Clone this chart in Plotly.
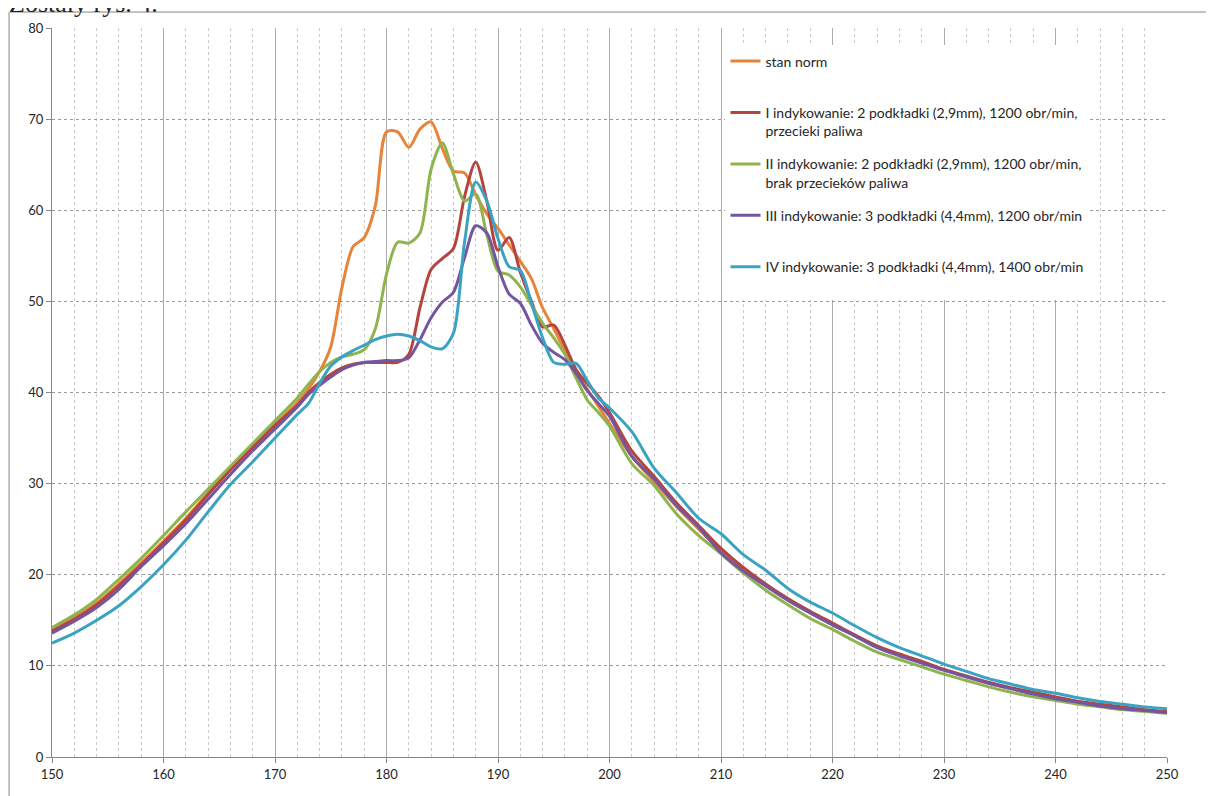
import plotly.graph_objects as go

# ---- data ----
x_vals = ([150, 152, 154, 156, 158, 160, 162, 164, 166, 168, 170, 172]
          + list(range(173, 201))
          + [202, 204, 206, 208, 210, 212, 214, 216, 218, 220, 222, 224, 226,
             228, 230, 232, 234, 236, 238, 240, 242, 244, 246, 248, 250])

stan_norm = [14.0, 15.3, 16.9, 19.0, 21.3, 23.7, 26.2, 29.0, 31.7, 34.1, 36.5, 38.9,
             40.4, 42.3, 45.0, 51.5, 56.0, 57.0, 60.5, 68.6, 68.6, 66.9, 68.9, 69.7, 66.8, 64.3,
             64.1, 61.7, 59.6, 58.0, 56.2, 54.4, 52.5, 49.3, 47.0, 44.6, 42.5, 40.4, 38.5, 36.6,
             33.0, 30.2, 27.5, 25.0, 22.6, 20.6, 18.8, 17.2, 15.8, 14.5, 13.3, 12.1, 11.2,
             10.4, 9.6, 8.8, 8.1, 7.5, 7.0, 6.5, 6.1, 5.7, 5.4, 5.1, 4.9]

ind_1 = [13.8, 15.1, 16.7, 18.8, 21.1, 23.5, 26.0, 28.8, 31.5, 34.0, 36.4, 38.6,
         40.0, 41.1, 42.0, 42.7, 43.1, 43.3, 43.3, 43.3, 43.3, 44.2, 49.3, 53.5, 54.7, 55.8,
         61.5, 65.3, 61.0, 55.6, 57.0, 53.2, 50.0, 47.2, 47.4, 45.2, 42.5, 41.0, 39.6, 37.8,
         33.6, 30.8, 27.9, 25.4, 22.9, 20.8, 19.0, 17.4, 16.0, 14.7, 13.4, 12.2, 11.3,
         10.5, 9.6, 8.9, 8.2, 7.6, 7.1, 6.6, 6.1, 5.8, 5.5, 5.2, 5.0]

ind_2 = [14.2, 15.6, 17.3, 19.5, 21.8, 24.3, 26.9, 29.4, 31.9, 34.4, 36.9, 39.4,
         40.9, 42.3, 43.3, 43.9, 44.2, 44.7, 47.0, 53.0, 56.5, 56.4, 57.5, 64.5, 67.4, 64.0,
         61.0, 61.8, 57.3, 53.3, 52.9, 51.6, 49.6, 47.6, 46.0, 44.2, 41.6, 39.2, 37.8, 36.3,
         32.2, 29.8, 26.7, 24.3, 22.3, 20.2, 18.3, 16.7, 15.2, 14.0, 12.7, 11.5, 10.7,
         9.9, 9.1, 8.4, 7.7, 7.1, 6.6, 6.2, 5.8, 5.5, 5.2, 5.0, 4.8]

ind_3 = [13.6, 14.9, 16.4, 18.4, 20.9, 23.2, 25.6, 28.3, 31.0, 33.6, 36.0, 38.4,
         39.8, 40.8, 41.7, 42.5, 43.0, 43.3, 43.4, 43.5, 43.5, 43.8, 45.8, 48.2, 49.9, 51.0,
         54.8, 58.3, 57.5, 53.8, 50.8, 49.8, 47.4, 45.4, 44.4, 43.6, 42.1, 40.2, 38.8, 37.4,
         33.0, 30.5, 27.6, 25.2, 22.4, 20.4, 18.8, 17.2, 15.8, 14.5, 13.3, 12.0, 11.1,
         10.3, 9.5, 8.8, 8.1, 7.5, 6.9, 6.4, 6.0, 5.6, 5.3, 5.1, 4.85]

ind_4 = [12.5, 13.6, 15.0, 16.6, 18.7, 21.1, 23.8, 26.9, 29.9, 32.4, 35.0, 37.6,
         38.8, 41.0, 42.9, 43.9, 44.6, 45.2, 45.8, 46.2, 46.4, 46.2, 45.7, 45.0, 44.8, 46.5,
         56.5, 63.1, 61.0, 56.9, 53.8, 53.4, 49.8, 46.0, 43.3, 43.1, 43.2, 41.3, 39.4, 38.3,
         35.7, 31.7, 29.0, 26.2, 24.5, 22.2, 20.5, 18.5, 17.0, 15.8, 14.4, 13.1, 12.0,
         11.1, 10.2, 9.4, 8.6, 8.0, 7.4, 7.0, 6.5, 6.1, 5.8, 5.5, 5.3]

series_names = [
    "stan norm<br>&nbsp;",
    "I indykowanie: 2 podkładki (2,9mm), 1200 obr/min,<br>przecieki paliwa",
    "II indykowanie: 2 podkładki (2,9mm), 1200 obr/min,<br>brak przecieków paliwa",
    "III indykowanie: 3 podkładki (4,4mm), 1200 obr/min<br>&nbsp;",
    "IV indykowanie: 3 podkładki (4,4mm), 1400 obr/min<br>&nbsp;",
]
series_values = [stan_norm, ind_1, ind_2, ind_3, ind_4]
series_colors = ["#E7843A", "#B5443F", "#8DB44E", "#7554A0", "#3BA3C2"]

x_ticks = [150, 160, 170, 180, 190, 200, 210, 220, 230, 240, 250]
y_ticks = [0, 10, 20, 30, 40, 50, 60, 70, 80]

fig = go.Figure()
for i, (name, vals, col) in enumerate(zip(series_names, series_values, series_colors)):
    fig.add_trace(go.Scatter(
        x=x_vals, y=vals, mode="lines", name=name,
        legendgroup=f"g{i}",
        line=dict(color=col, width=3, shape="spline", smoothing=0.8),
    ))

fig.update_layout(
    width=1214, height=796,
    margin=dict(l=44, r=55, t=18, b=47),
    paper_bgcolor="white", plot_bgcolor="white",
    font=dict(family="Lato, 'Open Sans', sans-serif", size=13, color="#262626"),
    showlegend=True,
    legend=dict(
        x=0.604, y=0.976, xanchor="left", yanchor="top",
        bgcolor="white", borderwidth=0,
        font=dict(family="Lato, sans-serif", size=14, color="#262626"),
        valign="top", tracegroupgap=12,
    ),
    xaxis=dict(
        range=[150, 250], tickvals=x_ticks, ticktext=[str(v) for v in x_ticks],
        showgrid=True, gridcolor="#ABABAB", gridwidth=1,
        minor=dict(dtick=2, showgrid=True, gridcolor="#CBCBCB", griddash="dot", gridwidth=1),
        showline=True, linecolor="#868686", linewidth=1,
        ticks="outside", ticklen=5, tickcolor="#868686",
        zeroline=False, tickfont=dict(size=13, color="#262626"),
    ),
    yaxis=dict(
        range=[0, 80], tickvals=y_ticks, ticktext=[str(v) for v in y_ticks],
        showgrid=True, gridcolor="#9A9A9A", griddash="dot", gridwidth=1,
        showline=True, linecolor="#868686", linewidth=1,
        ticks="outside", ticklen=5, tickcolor="#868686",
        zeroline=False, tickfont=dict(size=13, color="#262626"),
    ),
)

# chart-area frame (partially visible, as in the screenshot)
fig.add_shape(type="line", xref="paper", yref="paper",
              x0=-0.038, x1=1.2, y0=1.0219, y1=1.0219,
              line=dict(color="#868686", width=1))
fig.add_shape(type="line", xref="paper", yref="paper",
              x0=-0.0385, x1=-0.0385, y0=1.0219, y1=-0.1,
              line=dict(color="#868686", width=1))

# cut-off caption text above the chart
fig.add_annotation(xref="paper", yref="paper", x=-0.04, y=1.0, xanchor="left", yanchor="bottom",
                   yshift=8, showarrow=False,
                   text="Zostały rys. 4.",
                   font=dict(family="Liberation Serif, serif", size=26, color="#222222"))

fig.write_html("out.html")
